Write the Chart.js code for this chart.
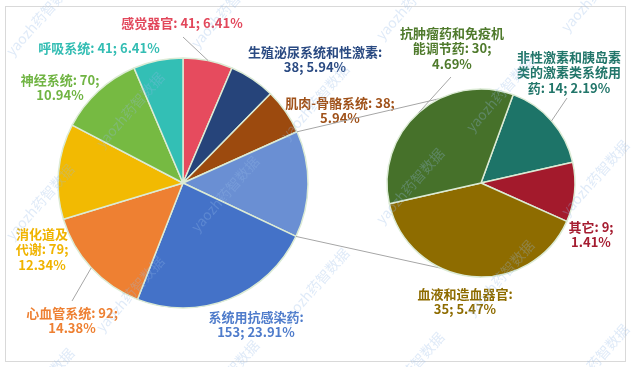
<!DOCTYPE html>
<html>
<head>
<meta charset="utf-8">
<script src="https://cdn.jsdelivr.net/npm/chart.js@4.4.0/dist/chart.umd.min.js"></script>
<style>
  html, body { margin: 0; padding: 0; background: #fff; }
  #wrap { position: relative; width: 635px; height: 367px; overflow: hidden; }
  #frame { position: absolute; left: 5px; top: 6px; width: 621px; height: 356px; border: 1px solid #d9d9d9; box-sizing: border-box; }
  canvas { position: absolute; left: 0; top: 0; }
</style>
</head>
<body>
<div id="wrap">
  <div id="frame"></div>
  <canvas id="mainPie" width="635" height="367"></canvas>
  <canvas id="subPie" width="635" height="367"></canvas>
</div>
<script>
// data
const totalCount = 640;

const mainNames = ['感觉器官', '生殖泌尿系统和性激素', '肌肉-骨骼系统', '其他', '系统用抗感染药', '心血管系统', '消化道及代谢', '神经系统', '呼吸系统'];
const mainValues = [41, 38, 38, 88, 153, 92, 79, 70, 41];

const subNames = ['非性激素和胰岛素类的激素类系统用药', '其它', '血液和造血器官', '抗肿瘤药和免疫机能调节药'];
const subValues = [14, 9, 35, 30];

// colours
const mainColors = ['#E64B5E', '#26447A', '#9C4A0E', '#6A8FD3', '#4472C8', '#EE8032', '#F2BA02', '#76BA42', '#33BFB5'];
const mainTextColors = ['#E2475B', '#2A4A82', '#A0521A', null, '#4F7CCB', '#EE8032', '#F0B400', '#70B443', '#33BDB3'];
const subColors = ['#1D7468', '#A31A2C', '#8E6C00', '#46712A'];
const subTextColors = ['#22766A', '#A51C30', '#8E6C00', '#4F7A2C'];

// where each label sits (x centre, y of first line), where its line breaks, optional leader start
const mainLabelLayout = [
    { x: 182, y: 23, breaks: [], leader: [183, 37] },
    { x: 315, y: 52, breaks: [11] },
    { x: 340, y: 103, breaks: [12] },
    null,
    { x: 256, y: 317, breaks: [8] },
    { x: 72, y: 313, breaks: [10], leader: [72, 301] },
    { x: 42, y: 234, breaks: [4, 11] },
    { x: 60, y: 80, breaks: [9] },
    { x: 99, y: 48, breaks: [] }
];
const subLabelLayout = [
    { x: 569, y: 57, breaks: [8, 16], leader: [567, 98] },
    { x: 591, y: 227, breaks: [6] },
    { x: 465, y: 294, breaks: [8] },
    { x: 452, y: 33, breaks: [8, 17], leader: [451, 77] }
];

function labelText(name, value) {
    const pct = (Math.round(value * 10000 / totalCount) / 100).toFixed(2);
    return name + ': ' + value + '; ' + pct + '%';
}

function splitAt(text, breaks) {
    const out = [];
    let from = 0;
    breaks.forEach(b => { out.push(text.slice(from, b).trim()); from = b; });
    out.push(text.slice(from).trim());
    return out;
}

function makeLabelPlugin(names, values, layout, textColors) {
    return {
        id: 'sliceLabels',
        afterDatasetsDraw(chart) {
            const ctx = chart.ctx;
            const arcs = chart.getDatasetMeta(0).data;
            ctx.save();
            ctx.font = 'bold 13px "Noto Sans CJK SC", "Noto Sans", sans-serif';
            ctx.textAlign = 'center';
            ctx.textBaseline = 'middle';
            layout.forEach((it, i) => {
                if (!it) return;
                const arc = arcs[i];
                if (it.leader) {
                    const mid = (arc.startAngle + arc.endAngle) / 2;
                    ctx.strokeStyle = '#a6a6a6';
                    ctx.lineWidth = 1;
                    ctx.beginPath();
                    ctx.moveTo(it.leader[0], it.leader[1]);
                    ctx.lineTo(arc.x + Math.cos(mid) * arc.outerRadius, arc.y + Math.sin(mid) * arc.outerRadius);
                    ctx.stroke();
                }
                ctx.fillStyle = textColors[i];
                splitAt(labelText(names[i], values[i]), it.breaks).forEach((ln, k) => {
                    ctx.fillText(ln, it.x, it.y + k * 15.5);
                });
            });
            ctx.restore();
        }
    };
}

// faint "yaozh" watermark, repeated diagonally
const watermark = {
    id: 'watermark',
    afterDraw(chart) {
        const ctx = chart.ctx;
        ctx.save();
        ctx.font = '14px "Noto Sans CJK SC", sans-serif';
        ctx.fillStyle = 'rgba(150, 185, 232, 0.3)';
        ctx.textAlign = 'center';
        ctx.textBaseline = 'middle';
        for (let r = -1; r < 6; r++) {
            for (let c = -1; c < 5; c++) {
                const x = 40 + c * 185 + (r % 2 ? 90 : 0);
                const y = 18 + r * 92 - c * 8;
                ctx.save();
                ctx.translate(x, y);
                ctx.rotate(-Math.PI * 0.27);
                ctx.fillText('yaozh药智数据', 0, 0);
                ctx.restore();
            }
        }
        ctx.restore();
    }
};

// lines joining the "other" slice to the second pie
const connectors = {
    id: 'connectors',
    beforeDatasetsDraw(chart) {
        const other = mainChart.getDatasetMeta(0).data[3];
        const sub = chart.getDatasetMeta(0).data[0];
        const ctx = chart.ctx;
        ctx.save();
        ctx.strokeStyle = '#a6a6a6';
        ctx.lineWidth = 1;
        ctx.beginPath();
        ctx.moveTo(other.x + Math.cos(other.startAngle) * other.outerRadius, other.y + Math.sin(other.startAngle) * other.outerRadius);
        ctx.lineTo(sub.x, sub.y - sub.outerRadius);
        ctx.moveTo(other.x + Math.cos(other.endAngle) * other.outerRadius, other.y + Math.sin(other.endAngle) * other.outerRadius);
        ctx.lineTo(sub.x, sub.y + sub.outerRadius);
        ctx.stroke();
        ctx.restore();
    }
};

const pieOptions = (radius, rotation, padding) => ({
    responsive: false,
    devicePixelRatio: 1,
    animation: false,
    events: [],
    radius: radius,
    rotation: rotation,
    layout: { padding: padding },
    plugins: { legend: { display: false }, tooltip: { enabled: false } }
});

const mainChart = new Chart(document.getElementById('mainPie').getContext('2d'), {
    type: 'pie',
    data: {
        labels: mainNames,
        datasets: [{
            data: mainValues,
            backgroundColor: mainColors,
            borderColor: '#DCEBD5',
            borderWidth: 1.5
        }]
    },
    options: pieOptions(125, 0, { left: 0, right: 269, top: 0, bottom: 1 }),
    plugins: [makeLabelPlugin(mainNames, mainValues, mainLabelLayout, mainTextColors)]
});

const subChart = new Chart(document.getElementById('subPie').getContext('2d'), {
    type: 'pie',
    data: {
        labels: subNames,
        datasets: [{
            data: subValues,
            backgroundColor: subColors,
            borderColor: '#DCEBD5',
            borderWidth: 1.5
        }]
    },
    options: pieOptions(94, 20, { left: 327, right: 0, top: 0, bottom: 1 }),
    plugins: [connectors, makeLabelPlugin(subNames, subValues, subLabelLayout, subTextColors), watermark]
});
</script>
</body>
</html>
